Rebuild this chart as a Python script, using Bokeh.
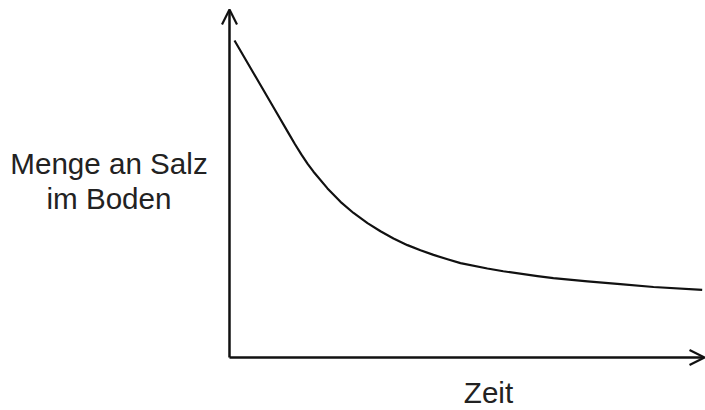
from bokeh.plotting import figure
from bokeh.models import Arrow, OpenHead, Label, Range1d
from bokeh.embed import file_html
from bokeh.resources import INLINE

# Data (arbitrary units: time vs. amount of salt in the soil)
zeit = [0.107, 0.406, 0.684, 0.983, 1.261, 1.400, 1.538, 1.670, 1.795, 2.094,
        2.372, 2.650, 2.949, 3.226, 3.504, 3.803, 4.081, 4.359, 4.658, 4.936,
        5.51, 5.85, 6.58, 6.92, 7.65, 8.35, 9.06, 10.1]
salz = [9.083, 8.395, 7.756, 7.068, 6.429, 6.109, 5.812, 5.548, 5.323, 4.845,
        4.461, 4.141, 3.851, 3.616, 3.410, 3.219, 3.072, 2.940, 2.815, 2.705,
        2.550, 2.470, 2.330, 2.275, 2.180, 2.100, 2.020, 1.940]

x_label = "Zeit"
y_label_lines = ["Menge an Salz", "im Boden"]

W, H = 705, 410
p = figure(width=W, height=H, output_backend="svg", toolbar_location=None,
           x_axis_type=None, y_axis_type=None,
           x_range=Range1d(-4.893, 10.171), y_range=Range1d(-1.519, 10.229),
           min_border=0)
p.outline_line_color = None
p.grid.visible = False
p.background_fill_color = "white"
p.border_fill_color = "white"

ink = "#111111"
# Axes as arrows
p.add_layout(Arrow(end=OpenHead(size=15, line_width=2.2, line_color=ink),
                   x_start=0, y_start=0, x_end=0, y_end=9.97,
                   line_width=2.5, line_color=ink))
p.add_layout(Arrow(end=OpenHead(size=15, line_width=2.2, line_color=ink),
                   x_start=0, y_start=0, x_end=10.15, y_end=0,
                   line_width=2.5, line_color=ink))

# Curve
p.line(zeit, salz, line_width=2.2, line_color=ink, line_join="round")

font = "Liberation Sans"
txt = "#222222"
fs = "29.6px"
dy = 0.29
p.add_layout(Label(x=5.534, y=-1.375 + dy + 0.09, text=x_label, text_align="center",
                   text_baseline="alphabetic", text_font=font,
                   text_font_size=fs, text_color=txt))
p.add_layout(Label(x=-2.575, y=5.272 + dy, text=y_label_lines[0], text_align="center",
                   text_baseline="alphabetic", text_font=font,
                   text_font_size=fs, text_color=txt))
p.add_layout(Label(x=-2.575, y=4.269 + dy, text=y_label_lines[1], text_align="center",
                   text_baseline="alphabetic", text_font=font,
                   text_font_size=fs, text_color=txt))

open("out.html", "w").write(file_html(p, INLINE))
